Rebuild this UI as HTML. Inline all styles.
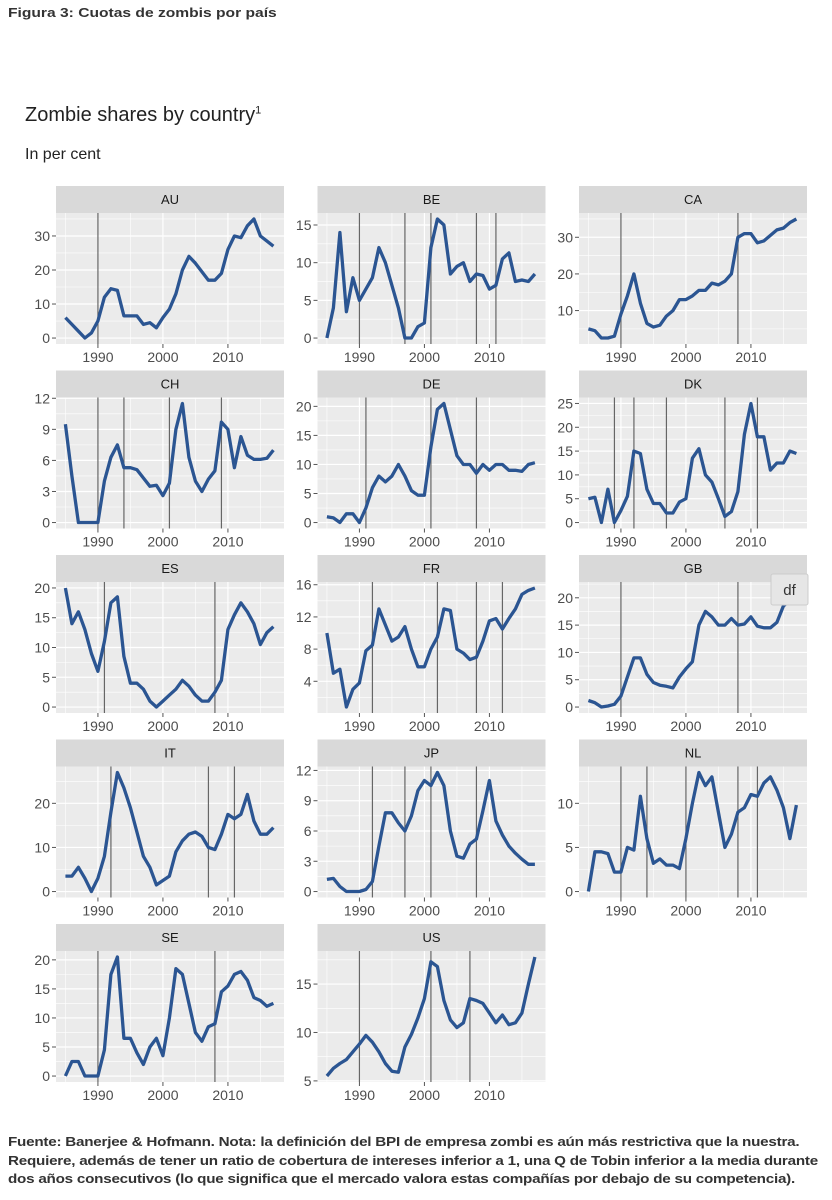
<!DOCTYPE html>
<html><head><meta charset="utf-8">
<style>
body{margin:0;background:#fff;width:832px;height:1200px;overflow:hidden;font-family:"Liberation Sans",sans-serif;}
#h{position:absolute;left:8px;top:5px;font-size:13px;font-weight:bold;color:#333;transform:scaleX(1.2);transform-origin:0 0;white-space:nowrap;}
#t{position:absolute;left:25px;top:104px;font-size:20px;color:#222;}
#t sup{font-size:11px;}
#s{position:absolute;left:25px;top:146px;font-size:16px;color:#222;}
#f{position:absolute;left:8px;top:1133px;font-size:13px;font-weight:bold;color:#333;line-height:18.5px;white-space:nowrap;letter-spacing:-0.2px;transform:scaleX(1.17);transform-origin:0 0;}
svg{position:absolute;left:0;top:0;}
</style></head><body>
<div id="h">Figura 3: Cuotas de zombis por país</div>
<div id="t">Zombie shares by country<sup>1</sup></div>
<div id="s">In per cent</div>
<svg id="g" width="832" height="1200" xmlns="http://www.w3.org/2000/svg"></svg>
<div id="f">Fuente: Banerjee &amp; Hofmann. Nota: la definición del BPI de empresa zombi es aún más restrictiva que la nuestra.<br>Requiere, además de tener un ratio de cobertura de intereses inferior a 1, una Q de Tobin inferior a la media durante<br>dos años consecutivos (lo que significa que el mercado valora estas compañías por debajo de su competencia).</div>
<script>
var P=[
["AU",[0,10,20,30],[1990],[6,4,2,0,1.5,5,12,14.5,14,6.5,6.5,6.5,4,4.5,3,6,8.5,13,20,24,22,19.5,17,17,19,26,30,29.5,33,35,30,28.5,27]],
["BE",[0,5,10,15],[1990,1997,2001,2008,2011],[0,4,14,3.5,8,5,6.5,8,12,10,7,4,0,0,1.5,2,12,15.8,15,8.5,9.5,10,7.5,8.5,8.3,6.5,7,10.5,11.3,7.5,7.7,7.5,8.5]],
["CA",[10,20,30],[1990,2008],[5,4.5,2.5,2.5,3,9,14,20,12,6.5,5.5,6,8.5,10,13,13,14,15.5,15.5,17.5,17,18,20,30,31,31,28.5,29,30.5,32,32.5,34,35]],
["CH",[0,3,6,9,12],[1990,1994,2001,2009],[9.5,4.5,0,0,0,0,4,6.3,7.5,5.3,5.3,5.1,4.3,3.5,3.6,2.6,3.8,9,11.5,6.3,4,3,4.2,5,9.7,9,5.3,8.3,6.5,6.1,6.1,6.2,7]],
["DE",[0,5,10,15,20],[1991,2001,2008],[1,0.8,0,1.5,1.5,0,2.5,6,8,7,8,10,8,5.5,4.7,4.7,13,19.5,20.5,16,11.5,10,10,8.5,10,9,10,10,9,9,8.8,10,10.3]],
["DK",[0,5,10,15,20,25],[1989,1992,1997,2006,2011],[5,5.3,0,7,0,2.5,5.5,15,14.5,7,4,4,2,2,4.3,5,13.5,15.5,10,8.5,5,1.3,2.3,6.5,18.5,25,18,18,11,12.5,12.5,15,14.5]],
["ES",[0,5,10,15,20],[1991,2008],[20,14,16,13,9,6,11,17.5,18.5,8.5,4,4,3,1,0,1,2,3,4.5,3.5,2,1,1,2.5,4.5,13,15.5,17.5,16,14,10.5,12.5,13.5]],
["FR",[4,8,12,16],[1992,2002,2008,2012],[10,5,5.5,0.8,3,3.8,7.8,8.5,13,11,9,9.5,10.8,8,5.8,5.8,8,9.5,13,12.8,8,7.5,6.7,7,9,11.5,11.8,10.5,11.8,13,14.8,15.3,15.6]],
["GB",[0,5,10,15,20],[1990,2008],[1.2,0.8,0,0.2,0.5,2,5.5,9,9,6,4.5,4,3.8,3.5,5.5,7,8.3,15,17.5,16.5,15,15,16.2,15,15.2,16.5,14.8,14.5,14.5,15.5,18.5,19.5,21.8]],
["IT",[0,10,20],[1992,2007,2011],[3.5,3.5,5.5,3,0,3,8,18,27,23.5,19,13.5,8,5.5,1.5,2.5,3.5,9,11.5,13,13.5,12.5,10,9.5,13,17.5,16.5,17.5,22,16,13,13,14.5]],
["JP",[0,3,6,9,12],[1992,1997,2001,2008],[1.2,1.3,0.5,0,0,0,0.2,1,4.5,7.8,7.8,6.8,6,7.5,10,11,10.5,11.8,10.5,6,3.5,3.3,4.7,5.2,8,11,7,5.6,4.5,3.8,3.2,2.7,2.7]],
["NL",[0,5,10],[1990,1994,2000,2008,2011],[0,4.5,4.5,4.3,2.2,2.2,5,4.7,10.8,6,3.2,3.7,3,3,2.6,6,10,13.5,12,13,9,5,6.5,9,9.5,11,10.8,12.3,13,11.5,9.5,6,9.8]],
["SE",[0,5,10,15,20],[1990,2008],[0,2.5,2.5,0,0,0,4.5,17.5,20.5,6.5,6.5,4,2,5,6.5,3.5,10,18.5,17.5,12.5,7.5,6,8.5,9,14.5,15.5,17.5,18,16.5,13.5,13,12,12.5]],
["US",[5,10,15],[1990,2001,2007],[5.5,6.3,6.8,7.2,8,8.8,9.7,9,8,6.8,6,5.9,8.5,9.8,11.5,13.5,17.3,16.8,13.3,11.3,10.5,11,13.5,13.3,13,12,11,11.8,10.8,11,12,15,17.8]]
];
var s='';
P.forEach(function(p,i){
 var c=i%3,r=Math.floor(i/3);
 var x0=56+c*261.5,x1=x0+228,st=186+r*184.5,y0=st+27,y1=y0+131;
 var d=p[3],mn=Math.min.apply(0,d),mx=Math.max.apply(0,d),R=mx-mn;
 var lo=mn-0.05*R,hi=mx+0.05*R;
 var X=function(yr){return x0+(yr-1983.55)*6.5;};
 var Y=function(v){return y1-(v-lo)/(hi-lo)*131;};
 s+='<rect x="'+x0+'" y="'+st+'" width="228" height="27" fill="#d9d9d9"/>';
 s+='<text x="'+(x0+114)+'" y="'+(st+18)+'" font-size="13" text-anchor="middle" fill="#1a1a1a">'+p[0]+'</text>';
 s+='<rect x="'+x0+'" y="'+y0+'" width="228" height="131" fill="#ebebeb"/>';
 var t=p[1],step=t[1]-t[0];
 for(var k=0;k<t.length+1;k++){var mv=t[0]-step/2+k*step;var yy=Y(mv);if(yy>y0&&yy<y1)s+='<line x1="'+x0+'" x2="'+x1+'" y1="'+yy+'" y2="'+yy+'" stroke="#fff" stroke-width="0.6"/>';}
 [1985,1995,2005,2015].forEach(function(yr){s+='<line x1="'+X(yr)+'" x2="'+X(yr)+'" y1="'+y0+'" y2="'+y1+'" stroke="#fff" stroke-width="0.6"/>';});
 t.forEach(function(v){var yy=Y(v);s+='<line x1="'+x0+'" x2="'+x1+'" y1="'+yy+'" y2="'+yy+'" stroke="#fff" stroke-width="1.2"/><line x1="'+(x0-4)+'" x2="'+x0+'" y1="'+yy+'" y2="'+yy+'" stroke="#555"/><text x="'+(x0-6)+'" y="'+(yy+5)+'" font-size="14" text-anchor="end" fill="#4d4d4d">'+v+'</text>';});
 [1990,2000,2010].forEach(function(yr){var xx=X(yr);s+='<line x1="'+xx+'" x2="'+xx+'" y1="'+y0+'" y2="'+y1+'" stroke="#fff" stroke-width="1.2"/><line x1="'+xx+'" x2="'+xx+'" y1="'+y1+'" y2="'+(y1+4)+'" stroke="#555"/><text x="'+xx+'" y="'+(y1+18)+'" font-size="14" text-anchor="middle" fill="#4d4d4d">'+yr+'</text>';});
 p[2].forEach(function(yr){var xx=X(yr);s+='<line x1="'+xx+'" x2="'+xx+'" y1="'+y0+'" y2="'+y1+'" stroke="#666" stroke-width="1.2"/>';});
 var pts=d.map(function(v,j){return X(1985+j).toFixed(1)+','+Y(v).toFixed(1);}).join(' ');
 s+='<polyline points="'+pts+'" fill="none" stroke="#2b5592" stroke-width="3.3" stroke-linejoin="round"/>';
});
s+='<rect x="771" y="574" width="37" height="31" rx="2" fill="#e6e6e6" stroke="#ccc"/><text x="789.5" y="595" font-size="15" text-anchor="middle" fill="#333">df</text>';
document.getElementById('g').innerHTML=s;
</script>
</body></html>
